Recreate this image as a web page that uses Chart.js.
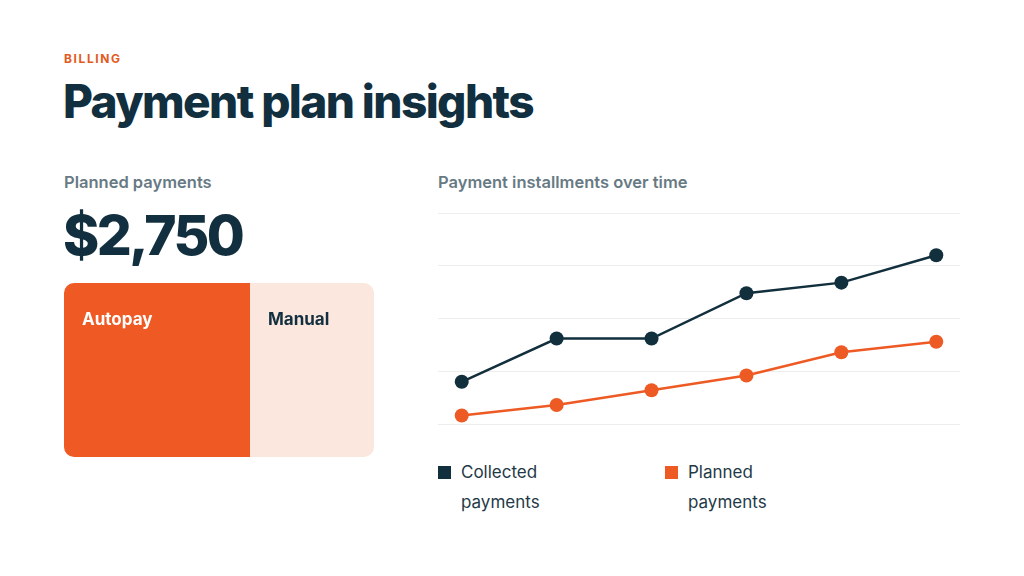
<!DOCTYPE html>
<html>
<head>
<meta charset="utf-8">
<script src="https://cdn.jsdelivr.net/npm/chart.js@4/dist/chart.umd.min.js"></script>
<style>
  html, body { margin: 0; padding: 0; background: #fff; }
  body { width: 1024px; height: 576px; position: relative; overflow: hidden; font-family: Inter, "Noto Sans", sans-serif; }
  .abs { position: absolute; }
  #eyebrow { left: 64px; top: 51px; font-size: 12px; font-weight: 700; letter-spacing: 1.6px; color: #e35a22; }
  #title { left: 63px; top: 73px; font-size: 46px; font-weight: 800; letter-spacing: -1.6px; color: #112f3e; }
  .sub { font-size: 16.5px; font-weight: 600; color: #677a84; letter-spacing: 0px; }
  #total { left: 63px; top: 202px; font-size: 55px; font-weight: 800; letter-spacing: -2.6px; color: #112f3e; }
  #splitWrap { left: 64px; top: 283px; width: 310px; height: 174px; }
  #lineWrap { left: 438px; top: 211px; width: 522px; height: 215px; }
  #legend { left: 438px; top: 458px; display: flex; }
  .item { width: 227px; display: flex; align-items: flex-start; }
  .sw { width: 13px; height: 13px; margin-top: 8px; margin-right: 10px; flex: none; }
  .txt { width: 110px; font-size: 17px; line-height: 29.5px; color: #1f3a47; }
</style>
</head>
<body>
<div id="eyebrow" class="abs">BILLING</div>
<div id="title" class="abs">Payment plan insights</div>
<div class="abs sub" style="left:64px;top:172px;">Planned payments</div>
<div id="total" class="abs"></div>
<div class="abs sub" style="left:438px;top:172px;">Payment installments over time</div>
<div id="splitWrap" class="abs"><canvas id="split"></canvas></div>
<div id="lineWrap" class="abs"><canvas id="line"></canvas></div>
<div id="legend" class="abs"></div>
<script>
// payment split
var splitLabels = ["Autopay", "Manual"];
var splitValues = [1650, 1100];
var splitColors = ["#ef5a24", "#fbe7de"];
var splitText = ["#ffffff", "#112f3e"];

// installments
var installments = [1, 2, 3, 4, 5, 6];
var collected = [20, 40.5, 40.5, 62, 67, 80];
var planned = [4, 9, 16, 23, 34, 39];
var seriesNames = ["Collected payments", "Planned payments"];
var seriesColors = ["#122f3d", "#ee5a24"];

var total = splitValues.reduce(function(a, b){ return a + b; }, 0);
document.getElementById("total").textContent = "$" + total.toLocaleString("en-US");

// draws the segment name in the top left corner of each bar
var segmentLabels = {
    id: "segmentLabels",
    afterDatasetsDraw: function(chart){
        var ctx = chart.ctx;
        ctx.save();
        ctx.font = "700 17px Inter, 'Noto Sans', sans-serif";
        ctx.textBaseline = "middle";
        chart.data.datasets.forEach(function(ds, i){
            var bar = chart.getDatasetMeta(i).data[0];
            var left = Math.min(bar.x, bar.base);
            var top = bar.y - bar.height / 2;
            ctx.fillStyle = splitText[i];
            ctx.fillText(ds.label, left + 18, top + 37);
        });
        ctx.restore();
    }
};

new Chart(document.getElementById("split"), {
    type: "bar",
    data: {
        labels: ["Planned"],
        datasets: splitLabels.map(function(name, i){
            var r = i === 0 ? {topLeft: 10, bottomLeft: 10, topRight: 0, bottomRight: 0}
                            : {topLeft: 0, bottomLeft: 0, topRight: 10, bottomRight: 10};
            return {
                label: name,
                data: [splitValues[i]],
                backgroundColor: splitColors[i],
                borderRadius: r,
                borderSkipped: false,
                inflateAmount: 0,
                barPercentage: 1,
                categoryPercentage: 1
            };
        })
    },
    options: {
        indexAxis: "y",
        responsive: true,
        maintainAspectRatio: false,
        animation: false,
        layout: { padding: 0 },
        plugins: { legend: { display: false }, tooltip: { enabled: false } },
        scales: {
            x: { stacked: true, display: false, min: 0, max: total },
            y: { stacked: true, display: false }
        }
    },
    plugins: [segmentLabels]
});

function points(values){
    return values.map(function(v, i){ return { x: i, y: v }; });
}

var lineData = [collected, planned];

new Chart(document.getElementById("line"), {
    type: "line",
    data: {
        labels: installments,
        datasets: lineData.map(function(vals, i){
            return {
                label: seriesNames[i],
                data: points(vals),
                borderColor: seriesColors[i],
                backgroundColor: seriesColors[i],
                pointBackgroundColor: seriesColors[i],
                pointBorderWidth: 0,
                pointRadius: 7,
                borderWidth: 2.5,
                tension: 0,
                fill: false,
                clip: 10
            };
        })
    },
    options: {
        responsive: true,
        maintainAspectRatio: false,
        animation: false,
        layout: { autoPadding: false, padding: { top: 2, bottom: 2, left: 0, right: 0 } },
        plugins: { legend: { display: false }, tooltip: { enabled: false } },
        scales: {
            x: { type: "linear", display: false, min: -0.25, max: installments.length - 0.75 },
            y: {
                min: 0, max: 100,
                ticks: { display: false, stepSize: 25 },
                border: { display: false },
                grid: { color: "#ebedee", lineWidth: 1, drawTicks: false }
            }
        }
    }
});

var legend = document.getElementById("legend");
seriesNames.forEach(function(name, i){
    var item = document.createElement("div");
    item.className = "item";
    item.innerHTML = '<div class="sw" style="background:' + seriesColors[i] + '"></div><div class="txt">' + name + '</div>';
    legend.appendChild(item);
});
</script>
</body>
</html>
